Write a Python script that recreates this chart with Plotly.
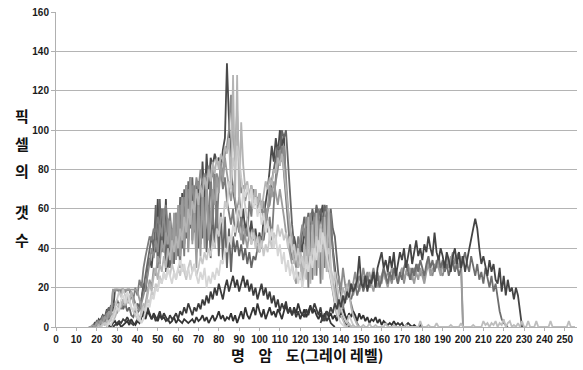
import plotly.graph_objects as go

# Histogram counts per gray level; each series is (first gray level, counts)
b1_start = 18
b1 = [0,2,1,4,3,6,5,9,7,11,
      8,19,19,18,19,19,18,19,19,16,
      12,9,7,10,14,22,18,28,35,30,
      42,38,65,32,60,38,65,30,56,34,
      52,40,60,36,68,42,72,44,76,48,
      70,50,74,58,84,62,88,70,86,82,
      88,84,86,80,90,96,134,105,80,70,
      62,56,66,52,60,48,56,46,54,44,
      50,42,48,40,56,62,70,80,92,84,
      96,88,100,92,98,70,56,44,38,46,
      40,34,44,38,50,42,56,48,58,50,
      60,48,56,62,50,58,44,52,40,30,
      20,12,8,4,2,1,0]

b5_start = 18
b5 = [0,1,3,2,4,6,4,8,10,7,
      12,10,14,11,13,9,12,8,10,6,
      5,8,12,10,14,20,26,32,38,46,
      40,62,30,65,38,60,28,55,30,50,
      32,58,36,66,40,70,45,74,50,76,
      48,72,40,68,45,66,38,62,35,60,
      40,64,36,58,34,56,30,50,28,46,
      38,44,36,42,34,40,32,38,30,36,
      34,40,38,46,44,52,58,66,74,80,
      86,92,90,100,96,100,84,66,52,42,
      36,30,40,48,56,50,58,52,60,54,
      62,56,60,52,62,58,54,60,50,46,
      34,24,16,10,6,3,1,0]

b7_start = 20
b7 = [0,2,1,4,2,6,3,8,5,10,
      7,12,9,14,10,16,12,18,14,20,
      16,24,20,30,36,42,46,44,50,48,
      56,50,60,54,62,48,58,44,54,40,
      50,30,64,36,70,40,76,44,72,38,
      68,42,72,50,76,48,80,52,78,50,
      72,80,70,76,64,58,52,60,46,54,
      48,56,42,50,46,64,56,70,62,66,
      58,64,52,60,48,56,44,62,74,90,
      82,92,78,64,50,40,34,42,36,46,
      40,22,36,50,20,52,24,58,26,60,
      22,56,30,62,28,58,38,26,16,8,
      6,10,14,20,16,12,8,4,2,0]

b2_start = 18
b2 = [1,0,2,3,2,5,4,7,5,8,
      19,18,19,19,17,19,18,19,19,17,
      15,12,10,8,12,16,20,26,32,40,
      35,44,38,52,46,60,42,55,40,50,
      45,58,48,62,55,66,58,70,62,72,
      64,76,70,80,72,78,68,82,74,80,
      70,78,72,84,76,88,92,100,118,96,
      88,110,80,68,72,64,70,66,72,62,
      70,60,68,58,64,56,60,62,70,66,
      74,80,90,84,92,76,60,50,42,36,
      30,38,44,52,46,56,48,58,50,56,
      46,54,42,50,38,46,34,26,18,12,
      20,26,18,30,22,16,24,18,22,28,
      20,26,22,30,24,28,20,26,30,24,
      28,22,26,30,24,28,26,22,28,30,
      24,26,30,22,28,32,26,24,30,28,
      32,26,28,24,30,34,28,26,32,30,
      34,28,26,32,36,30,34,38,32,36,
      38,30,0,0,0]

b6_start = 16
b6 = [0,0,1,0,2,1,3,2,5,4,
      8,6,19,19,19,19,19,19,19,19,
      19,19,19,19,18,14,10,8,12,18,
      24,20,30,26,36,32,44,38,48,42,
      54,30,58,34,62,36,66,40,72,38,
      76,42,60,30,64,36,68,40,74,44,
      58,70,62,76,68,82,74,86,78,72,
      64,72,66,58,50,44,52,46,40,48,
      42,50,44,38,46,40,48,54,60,72,
      66,74,68,62,70,64,56,48,42,36,
      30,26,22,28,24,30,26,34,28,38,
      32,40,36,44,38,48,42,36,28,22,
      16,10,6,4,8,12,16,14,18,22,
      16,20,24,18,22,26,20,24,28,22,
      18,24,20,26,22,28,24,20,26,30,
      24,28,22,26,30,24,28,26,30,26,
      22,28,24,30,26,22,28,32,26,30,
      28,34,30,26,32,28,34,30,36,32,
      28,34,30,36,0,0]

d2_start = 25
d2 = [0,1,0,2,3,1,2,0,1,2,
      3,1,4,2,1,3,2,5,6,4,
      8,6,4,7,5,3,6,4,5,3,
      4,2,3,5,2,4,3,2,4,3,
      2,3,4,2,5,3,4,6,3,5,
      2,4,6,3,5,8,4,6,3,5,
      4,7,3,6,2,5,8,4,10,6,
      4,7,10,6,12,8,5,9,4,7,
      10,6,8,5,9,7,4,8,11,7,
      9,6,10,7,12,8,6,9,5,8,
      11,7,9,6,4,7,3,6,8,5,
      7,4,6,3,8,5,9,6,4,7,
      5,8,6,3,7,4,6,3,5,2,
      4,3,5,2,4,1,3,2,1,2,
      1,3,1,2,1,2,0,1,2,1,
      0,1,0,0,1,0]

d1_start = 28
d1 = [0,1,2,3,2,4,3,5,3,2,
      1,2,4,3,6,8,5,10,7,4,
      6,3,5,8,4,7,5,3,6,4,
      5,7,4,8,6,10,7,12,9,6,
      10,8,12,9,14,11,16,12,18,14,
      20,16,22,18,14,20,24,18,22,26,
      20,24,18,22,26,20,24,18,22,16,
      20,14,18,22,16,20,14,18,12,16,
      10,14,8,12,9,13,7,10,6,9,
      5,8,4,7,5,9,6,10,8,12,
      9,6,10,4,7,3,5,2,1,0]

b3_start = 20
b3 = [0,1,0,2,1,3,2,4,3,5,
      8,12,10,14,11,16,13,18,12,9,
      6,4,8,12,10,16,22,18,26,30,
      24,32,28,36,30,40,34,44,38,46,
      40,50,44,56,48,60,52,64,58,70,
      62,72,66,76,70,80,74,84,78,86,
      80,88,84,92,88,96,70,128,66,128,
      60,104,82,70,74,66,72,64,70,62,
      68,60,66,74,70,76,72,80,78,86,
      82,88,80,70,58,48,40,32,36,30,
      38,20,42,24,56,22,52,26,58,30,
      52,24,56,28,60,30,24,16,10,6,
      14,20,16,22,18,10,6,3,1,0]

b4_start = 22
b4 = [0,1,2,1,3,4,6,10,14,18,
      15,19,16,12,14,10,8,6,4,3,
      6,10,8,14,12,18,16,22,20,26,
      22,28,24,30,26,32,28,24,30,26,
      32,28,24,30,34,28,32,26,30,36,
      32,38,34,40,36,44,40,50,46,56,
      52,64,60,74,70,86,80,92,86,76,
      68,60,52,46,42,48,40,46,38,44,
      36,42,38,46,40,48,44,52,46,50,
      44,48,40,46,38,42,34,40,32,36,
      30,36,28,34,40,34,46,38,50,42,
      46,36,40,30,22,28,20,14,10,6,
      4,2,6,3,1,0]

b8_start = 25
b8 = [0,2,1,4,6,10,8,14,16,12,
      18,14,10,8,12,6,4,2,4,8,
      12,10,16,14,20,18,24,22,28,24,
      30,26,22,28,24,30,34,28,32,26,
      30,24,28,32,26,22,28,24,30,20,
      26,22,28,24,30,26,34,32,40,38,
      46,42,52,48,58,62,56,70,66,72,
      64,70,60,66,56,62,52,58,48,54,
      44,50,40,46,36,42,32,38,28,34,
      26,32,24,30,22,28,20,26,32,28,
      36,30,40,34,44,38,48,42,36,30,
      24,18,12,8,4,2,1,0]

r2_start = 145
r2 = [14,18,22,16,20,24,18,22,26,20,
      24,28,22,26,20,24,30,26,22,28,
      24,30,26,22,28,24,30,34,28,24,
      30,26,32,28,34,30,26,32,36,30,
      34,28,32,36,30,34,28,32,26,30,
      34,28,32,26,30,34,38,32,28,36,
      30,26,32,24,28,22,30,24,20,26,
      18,22,14,8,4,2,1,0]

r1_start = 130
r1 = [2,5,3,8,6,10,7,12,9,14,
      10,16,12,18,15,22,18,20,24,36,
      22,20,26,18,24,22,28,20,30,34,
      38,30,34,28,36,30,38,26,32,38,
      34,40,30,36,42,32,38,44,36,40,
      34,42,38,46,40,36,48,38,34,40,
      36,30,38,34,28,36,40,32,38,30,
      36,28,34,40,44,50,55,50,40,32,
      36,30,26,34,28,32,24,22,30,18,
      26,16,24,18,20,14,20,16,8,0]

l1_start = 140
l1 = [6,3,1,0,2,0,1,0,0,0,
      0,1,0,0,2,0,0,1,0,0,
      0,0,2,0,0,0,1,0,0,0,
      0,0,1,0,0,0,0,0,0,3,
      0,0,0,1,0,0,0,2,0,0,
      0,0,0,0,1,0,0,0,0,2,
      0,0,0,0,0,1,0,0,0,0,
      3,1,2,0,2,1,3,0,2,1,
      4,0,2,3,0,1,0,2,0,3,
      0,0,3,0,0,0,3,0,0,0,
      0,0,0,3,0,0,0,0,0,0,
      0,0,3,0,0,0]

x_ticks = list(range(0, 251, 10))
y_ticks = list(range(0, 161, 20))

# drawing order (later traces sit on top) with gray shades
series = [
    (b1_start, b1, "#4a4a4a"),
    (b5_start, b5, "#666666"),
    (b7_start, b7, "#7c7c7c"),
    (b2_start, b2, "#8c8c8c"),
    (b6_start, b6, "#9c9c9c"),
    (d2_start, d2, "#333333"),
    (d1_start, d1, "#3c3c3c"),
    (b3_start, b3, "#b4b4b4"),
    (b4_start, b4, "#c8c8c8"),
    (b8_start, b8, "#d6d6d6"),
    (r2_start, r2, "#6e6e6e"),
    (r1_start, r1, "#444444"),
    (l1_start, l1, "#bdbdbd"),
]

fig = go.Figure()
for start, vals, color in series:
    fig.add_trace(go.Scatter(
        x=list(range(start, start + len(vals))), y=vals,
        mode="lines", line=dict(color=color, width=1.8),
        showlegend=False, hoverinfo="skip"))

tick_font = dict(family="Liberation Sans, Arial, sans-serif", size=10,
                 color="#1a1a1a", weight="bold")
kor_font = dict(family="Noto Sans CJK KR, sans-serif", size=15,
                color="#111111", weight="bold")

fig.update_layout(
    width=583, height=370,
    margin=dict(l=56, r=6, t=10, b=43),
    paper_bgcolor="white", plot_bgcolor="white",
    xaxis=dict(range=[0, 256], tickvals=x_ticks, ticktext=[str(v) for v in x_ticks],
               showgrid=False, zeroline=False, showline=True, linecolor="#b0b0b0",
               linewidth=1, ticks="outside", ticklen=3, tickcolor="#b0b0b0",
               tickfont=tick_font),
    yaxis=dict(range=[0, 160], tickvals=y_ticks, showgrid=True, gridcolor="#b4b4b4",
               gridwidth=1, zeroline=False, showline=True, linecolor="#b0b0b0",
               linewidth=1, ticks="outside", ticklen=4, tickcolor="#b0b0b0",
               tickfont=tick_font),
)

# vertical y-axis title, one syllable per row
for ch, ypx in [("픽", 114), ("셀", 142), ("의", 170), ("갯", 211), ("수", 239)]:
    fig.add_annotation(text=ch, xref="paper", yref="paper",
                       x=-56 / 521 + 22 / 521, y=1 - (ypx - 10) / 317,
                       showarrow=False, font=kor_font, xanchor="center", yanchor="middle")

fig.add_annotation(text="명&nbsp;&nbsp;&nbsp;&nbsp;암&nbsp;&nbsp;&nbsp;&nbsp;도(그레이 레벨)",
                   xref="paper", yref="paper", x=(307 - 56) / 521, y=-(355 - 327) / 317,
                   showarrow=False, font=kor_font, xanchor="center", yanchor="middle")

fig.write_html("out.html")
